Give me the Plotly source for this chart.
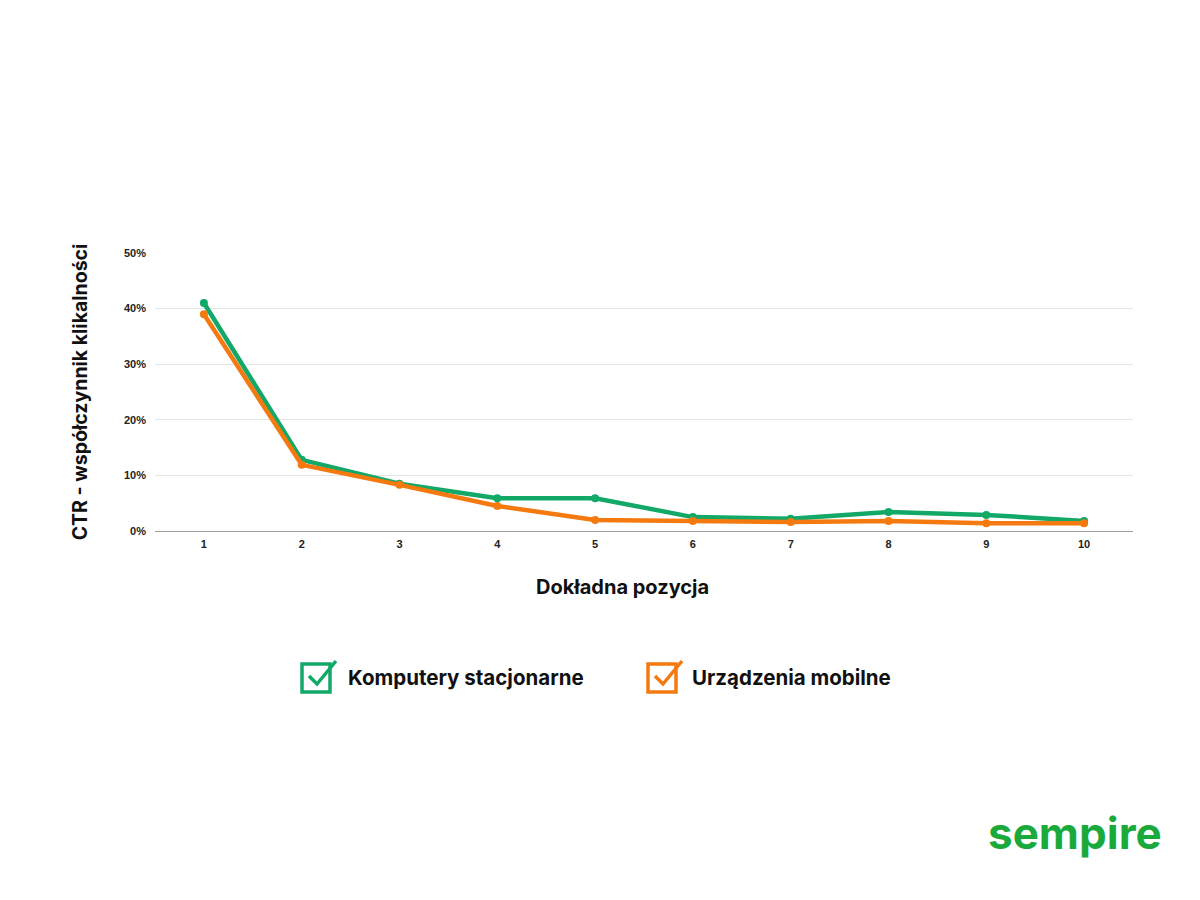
import plotly.graph_objects as go

positions = ["1", "2", "3", "4", "5", "6", "7", "8", "9", "10"]
desktop = [0.410, 0.128, 0.085, 0.059, 0.059, 0.025, 0.022, 0.034, 0.029, 0.018]
mobile = [0.390, 0.119, 0.083, 0.045, 0.020, 0.018, 0.016, 0.018, 0.014, 0.014]
y_ticks = [0, 0.1, 0.2, 0.3, 0.4, 0.5]

GREEN = "#12a868"
ORANGE = "#f47a10"
FONT = "Inter"

# plot area in figure pixels
L, T, R, B = 147, 245, 1125, 523
W, H = R - L, B - T


def px(x, y):
    # figure pixel -> paper coordinates
    return (x - L) / W, (B - y) / H


fig = go.Figure()
fig.add_trace(go.Scatter(x=positions, y=desktop, name="Komputery stacjonarne",
                         mode="lines+markers", line=dict(color=GREEN, width=4.5),
                         marker=dict(size=8, color=GREEN)))
fig.add_trace(go.Scatter(x=positions, y=mobile, name="Urządzenia mobilne",
                         mode="lines+markers", line=dict(color=ORANGE, width=4.5),
                         marker=dict(size=8, color=ORANGE)))

tick_font = dict(family="Liberation Sans", size=11, color="#222", weight="bold")
fig.update_xaxes(type="category", range=[-0.5, 9.5], showgrid=False,
                 showline=True, linecolor="#9e9e9e", linewidth=1,
                 ticks="", tickfont=tick_font, ticklabelstandoff=3)
fig.update_yaxes(range=[0, 0.5], tickvals=y_ticks, tickformat=".0%",
                 showgrid=True, gridcolor="#e4e4e4", zeroline=False,
                 tickfont=tick_font, ticklabelstandoff=8,
                 title=dict(text="<b>CTR - współczynnik klikalności</b>", standoff=31,
                            font=dict(family=FONT, size=19.5, color="#111")))


def check_box(x0, y0, color):
    # x0, y0: top-left corner of the box in figure pixels
    bx0, by0 = px(x0, y0 + 28)
    bx1, by1 = px(x0 + 28, y0)
    fig.add_shape(type="rect", xref="paper", yref="paper",
                  x0=bx0, x1=bx1, y0=by0, y1=by1,
                  line=dict(color=color, width=3.5))
    p1 = px(x0 + 7, y0 + 12)
    p2 = px(x0 + 15, y0 + 20)
    p3 = px(x0 + 34, y0 - 3)
    fig.add_shape(type="path", xref="paper", yref="paper",
                  path=f"M {p1[0]} {p1[1]} L {p2[0]} {p2[1]} L {p3[0]} {p3[1]}",
                  line=dict(color=color, width=3.5))


check_box(294, 656, GREEN)
check_box(640, 656, ORANGE)

tx, ty = px(614, 579)
fig.add_annotation(xref="paper", yref="paper", x=tx, y=ty, xanchor="center", yanchor="middle",
                   text="<b>Dokładna pozycja</b>", showarrow=False,
                   font=dict(family=FONT, size=20, color="#111"))
lx, ly = px(338, 669)
fig.add_annotation(xref="paper", yref="paper", x=lx, y=ly, xanchor="left", yanchor="middle",
                   text="<b>Komputery stacjonarne</b>", showarrow=False,
                   font=dict(family=FONT, size=20.5, color="#111"))
lx, ly = px(682, 669)
fig.add_annotation(xref="paper", yref="paper", x=lx, y=ly, xanchor="left", yanchor="middle",
                   text="<b>Urządzenia mobilne</b>", showarrow=False,
                   font=dict(family=FONT, size=20.5, color="#111"))
lx, ly = px(1156, 825)
fig.add_annotation(xref="paper", yref="paper", x=lx, y=ly, xanchor="right", yanchor="middle",
                   text="<b>sempire</b>", showarrow=False,
                   font=dict(family=FONT, size=44, color="#1aaa3c"))

fig.update_layout(width=1200, height=900, showlegend=False,
                  paper_bgcolor="white", plot_bgcolor="white",
                  margin=dict(l=L, r=1200 - R, t=T, b=900 - B))

fig.write_html("out.html")
